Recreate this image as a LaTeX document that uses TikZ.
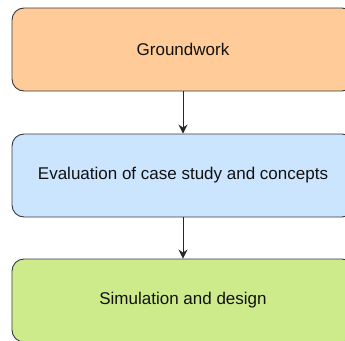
\documentclass[tikz,border=0pt]{standalone}
\usepackage{fontspec}
\setmainfont{Liberation Sans}
\usetikzlibrary{arrows.meta}
\definecolor{edgegray}{HTML}{36393D}
\definecolor{fillorange}{HTML}{FFCC99}
\definecolor{fillblue}{HTML}{CCE5FF}
\definecolor{fillgreen}{HTML}{CDEB8B}
\definecolor{inkdark}{HTML}{111111}
\tikzset{
  stage/.style={draw=edgegray, line width=0.9pt, rounded corners=12pt,
    minimum width=342pt, minimum height=83pt, inner sep=0pt,
    font=\fontsize{17}{19}\selectfont, text=inkdark},
  flow/.style={draw=black!85, line width=1pt,
    -{Stealth[length=9pt,width=9pt,inset=3pt]}}
}
\begin{document}
\begin{tikzpicture}[x=1pt,y=-1pt]
  \useasboundingbox (0,0) rectangle (345,340);
  \clip (0,0) rectangle (345,340);
  \node[stage, fill=fillorange] (ground) at (183,49.5) {Groundwork};
  \node[stage, fill=fillblue] (eval) at (183,175.5) {Evaluation of case study and concepts};
  \node[stage, fill=fillgreen] (sim) at (183,300.5) {Simulation and design};
  \draw[flow] (ground) -- (eval);
  \draw[flow] (eval) -- (sim);
\end{tikzpicture}
\end{document}
